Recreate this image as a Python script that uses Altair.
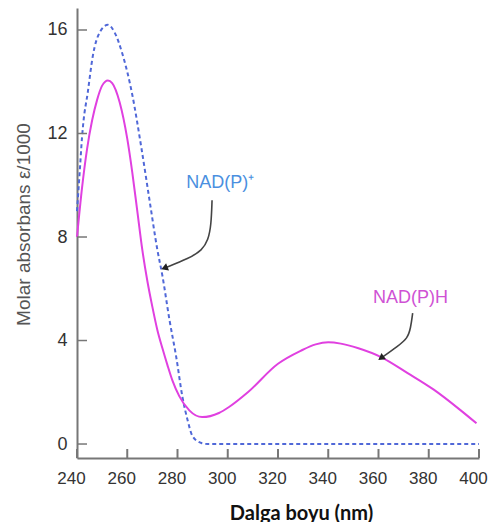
import altair as alt
import pandas as pd

# NAD(P)+ (blue dashed)
nadp_nm = [240, 241.2, 242, 242.4, 244.3, 246.3, 249, 252.3, 255, 258, 262, 265.7, 268.9, 272, 274, 276.8, 279.5, 282, 284, 286, 289.5, 292, 320, 360, 400]
nadp_val = [9.0, 10.7, 11.85, 12.3, 13.6, 15.0, 15.9, 16.2, 15.9, 15.1, 13.5, 11.4, 9.4, 7.5, 6.5, 4.8, 3.36, 1.8, 0.93, 0.3, 0.04, 0.0, 0.0, 0.0, 0.0]

# NAD(P)H (magenta solid)
nadph_nm = [240, 242, 244, 246, 248, 250, 252.3, 254, 257, 260, 262, 264, 266, 268, 270, 272, 274, 276, 278, 280.7, 284.7, 289.8, 296.5, 300.5, 308, 320, 329, 335, 340, 345, 352, 361, 371.6, 382, 392.6, 399]
nadph_val = [8.0, 9.9, 11.4, 12.5, 13.3, 13.85, 14.05, 13.95, 13.2, 11.8, 10.5, 9.0, 7.5, 6.3, 5.3, 4.4, 3.7, 3.05, 2.45, 1.85, 1.3, 1.04, 1.2, 1.43, 2.0, 3.1, 3.6, 3.85, 3.93, 3.88, 3.7, 3.36, 2.74, 2.1, 1.31, 0.8]

x_ticks = [240, 260, 280, 300, 320, 340, 360, 380, 400]
y_ticks = [0, 4, 8, 12, 16]

label_text = ["NAD(P)\u207a", "NAD(P)H"]
label_nm = [283.5, 357.8]
label_val = [10.08, 5.64]
label_color = ["#4a8fe0", "#cf52d4"]

arrow1_nm = [293.75, 293.4, 292.2, 289.8, 284.7, 274.8]
arrow1_val = [9.42, 8.46, 7.88, 7.49, 7.18, 6.80]
arrow2_nm = [373.6, 372.8, 371.6, 367.7, 361.0]
arrow2_val = [5.06, 4.48, 4.09, 3.78, 3.32]
head_angle = [248, 234]

W, H = 402, 450
xs = alt.Scale(domain=[240, 400], nice=False, zero=False)
ys = alt.Scale(domain=[-0.54, 16.85], nice=False, zero=False)

df_p = pd.DataFrame({"nm": nadp_nm, "v": nadp_val})
df_h = pd.DataFrame({"nm": nadph_nm, "v": nadph_val})

xax = alt.Axis(values=x_ticks, ticks=False, grid=False, labelFontSize=17, labelColor="#333",
               labelFont="Liberation Sans", labelPadding=12, labelFlush=False, labelOffset=-6,
               domainColor="#777", domainWidth=2,
               title="Dalga boyu (nm)", titleFont="Lato", titleFontSize=20, titleFontWeight="bold",
               titleColor="#111", titleX=224, titleY=61, titleBaseline="alphabetic")
yax = alt.Axis(values=y_ticks, ticks=False, grid=False, labelFontSize=18, labelColor="#333",
               labelFont="Liberation Sans", labelPadding=10, labelFlush=False,
               domainColor="#777", domainWidth=2,
               title="Molar absorbans \u03b5/1000", titleFont="Liberation Sans", titleFontSize=19,
               titleFontWeight="normal", titleColor="#555", titleX=-48, titleY=216,
               titleBaseline="alphabetic")

blue = alt.Chart(df_p).mark_line(color="#5068d8", strokeWidth=2, strokeDash=[4, 3],
                                 interpolate="monotone").encode(
    x=alt.X("nm:Q", scale=xs, axis=xax),
    y=alt.Y("v:Q", scale=ys, axis=yax))

pink = alt.Chart(df_h).mark_line(color="#e040e0", strokeWidth=2, interpolate="monotone").encode(
    x=alt.X("nm:Q", scale=xs), y=alt.Y("v:Q", scale=ys))

xt = alt.Chart(pd.DataFrame({"t": x_ticks})).mark_rule(color="#777", strokeWidth=2).encode(
    x=alt.X("t:Q", scale=xs), y=alt.value(H - 9), y2=alt.value(H))
yt = alt.Chart(pd.DataFrame({"t": y_ticks})).mark_rule(color="#777", strokeWidth=1.5).encode(
    y=alt.Y("t:Q", scale=ys), x=alt.value(0), x2=alt.value(10))

df_lab = pd.DataFrame({"t": label_text, "nm": label_nm, "v": label_val, "c": label_color})
labels = alt.Chart(df_lab).mark_text(align="left", baseline="middle", font="Liberation Sans",
                                     fontSize=18).encode(
    x=alt.X("nm:Q", scale=xs), y=alt.Y("v:Q", scale=ys), text="t:N",
    color=alt.Color("c:N", scale=None))

arr_df = pd.DataFrame({
    "nm": arrow1_nm + arrow2_nm,
    "v": arrow1_val + arrow2_val,
    "g": ["a"] * len(arrow1_nm) + ["b"] * len(arrow2_nm),
    "o": list(range(len(arrow1_nm))) + list(range(len(arrow2_nm))),
})
arrows = alt.Chart(arr_df).mark_line(color="#444", strokeWidth=1.6, interpolate="basis").encode(
    x=alt.X("nm:Q", scale=xs), y=alt.Y("v:Q", scale=ys), detail="g:N", order="o:Q")

heads_df = pd.DataFrame({"nm": [arrow1_nm[-1], arrow2_nm[-1]], "v": [arrow1_val[-1], arrow2_val[-1]],
                         "a": head_angle})
heads = alt.Chart(heads_df).mark_point(shape="triangle-up", filled=True, color="#222", size=60,
                                       opacity=1).encode(
    x=alt.X("nm:Q", scale=xs), y=alt.Y("v:Q", scale=ys), angle=alt.Angle("a:Q", scale=None))

chart = alt.layer(blue, pink, xt, yt, arrows, heads, labels).properties(
    width=W, height=H, autosize=alt.AutoSizeParams(type="none"),
    padding={"left": 69, "top": 0, "right": 9, "bottom": 64},
    background="white",
).configure_view(stroke=None)

chart.save("out.html", embed_options={"renderer": "svg", "actions": False})
